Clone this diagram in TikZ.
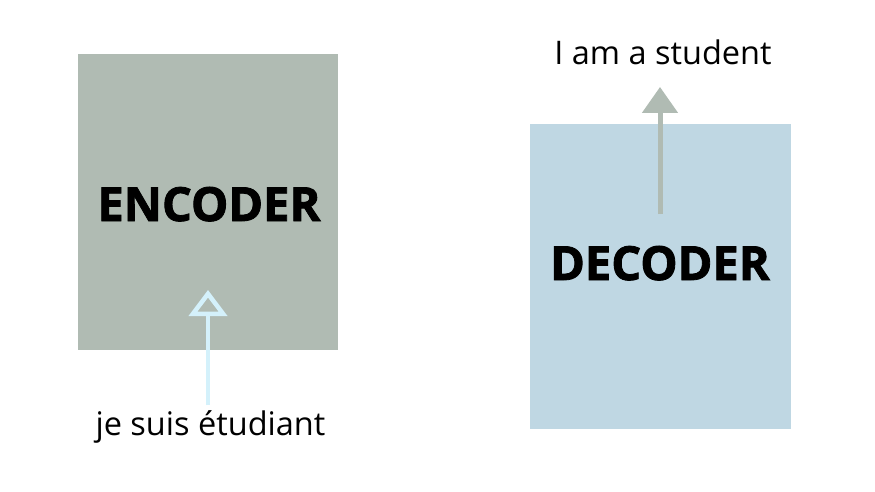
\documentclass[tikz,border=0pt]{standalone}
\usepackage{fontspec}
\setmainfont{Open Sans}
\newfontfamily\heavyfont[FakeBold=1.8]{Open Sans Bold}
\usepackage{tikz}
\usetikzlibrary{arrows.meta, positioning}

\definecolor{encgrey}{HTML}{B0BBB3}
\definecolor{decblue}{HTML}{BFD7E3}
\definecolor{inblue}{HTML}{D4F1FB}

\begin{document}
\begin{tikzpicture}[
        x=1pt, y=-1pt,
        box/.style={rectangle, inner sep=0pt},
        title/.style={inner sep=0pt, anchor=base, font=\fontsize{47}{52}\selectfont\heavyfont},
        label/.style={inner sep=0pt, anchor=base, font=\fontsize{32.5}{36}\selectfont},
        inarrow/.style={-{Triangle[open, length=26pt, width=38pt]}, line width=4.5pt, draw=inblue},
        outarrow/.style={-{Triangle[length=26pt, width=35pt]}, line width=5pt, draw=encgrey, fill=encgrey},
    ]
        \useasboundingbox (0,0) rectangle (875,492);
        \fill[white] (0,0) rectangle (875,492);

        \node[box, fill=encgrey, minimum width=260pt, minimum height=296pt] (encoder) at (208,202) {};
        \node[box, fill=decblue, minimum width=261pt, minimum height=305pt] (decoder) at (660.5,276.5) {};
        \node[title] (enctext) at (209,221) {ENCODER};
        \node[title] (dectext) at (660,280) {DECODER};

        \node[label] (source) at (210.5,435) {je suis étudiant};
        \node[label] (target) at (663,65) {I am a student};

        \coordinate (encfoot) at (208,405);
        \coordinate (enchead) at (208,290);
        \coordinate (decfoot) at (660,214);
        \coordinate (dechead) at (660,87);

        \draw[inarrow] (encfoot) -- (enchead);
        \draw[outarrow] (decfoot) -- (dechead);
    \end{tikzpicture}
\end{document}
